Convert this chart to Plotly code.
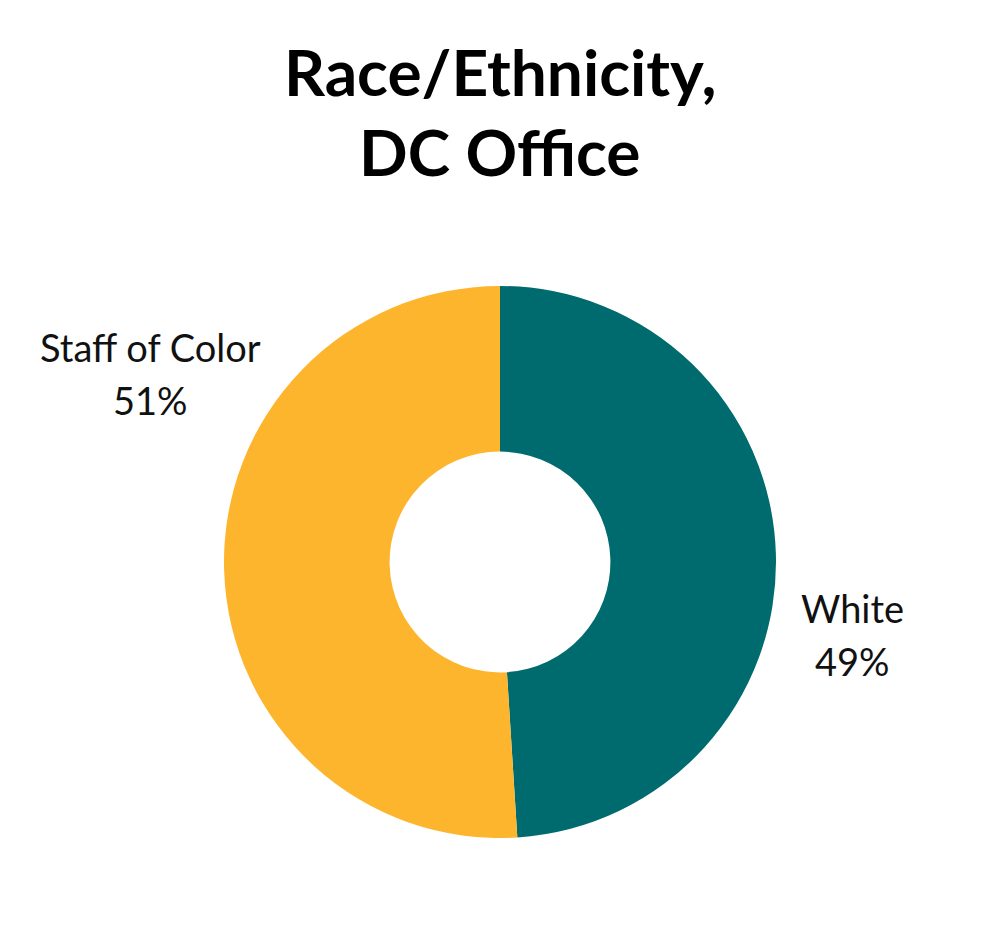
import plotly.graph_objects as go

# data
labels = ["White", "Staff of Color"]
values = [49, 51]
colors = ["#006B6E", "#FDB52E"]
pct_text = ["49%", "51%"]
title_lines = ["Race/Ethnicity,", "DC Office"]

FONT = "Lato, 'Open Sans', sans-serif"

fig = go.Figure(
    go.Pie(
        labels=labels,
        values=values,
        marker=dict(colors=colors, line=dict(width=0)),
        hole=0.4,
        sort=False,
        direction="clockwise",
        rotation=0,
        textinfo="none",
        hoverinfo="label+percent",
        domain=dict(x=[0.216, 0.768], y=[0.1075, 0.7011]),
        showlegend=False,
    )
)

# title, one annotation per line to get the wide line spacing
for line, y in zip(title_lines, [0.932, 0.8462]):
    fig.add_annotation(
        x=0.492, y=y, xref="paper", yref="paper", text=f"<b>{line}</b>",
        showarrow=False, xanchor="center", yanchor="middle",
        font=dict(family=FONT, size=64, color="#000000"),
    )

# outside labels, name and percent on separate rows
label_pos = {"White": (0.844, 0.3548), "Staff of Color": (0.142, 0.6355)}
for name, pct in zip(labels, pct_text):
    x, y = label_pos[name]
    fig.add_annotation(
        x=x, y=y, xref="paper", yref="paper", text=name, showarrow=False,
        xanchor="center", yanchor="middle",
        font=dict(family=FONT, size=38, color="#111111"),
    )
    fig.add_annotation(
        x=x, y=y - 0.057, xref="paper", yref="paper", text=pct, showarrow=False,
        xanchor="center", yanchor="middle",
        font=dict(family=FONT, size=38, color="#111111"),
    )

fig.update_layout(
    width=1000,
    height=930,
    margin=dict(l=0, r=0, t=0, b=0),
    paper_bgcolor="white",
    plot_bgcolor="white",
)

fig.write_html("out.html")
